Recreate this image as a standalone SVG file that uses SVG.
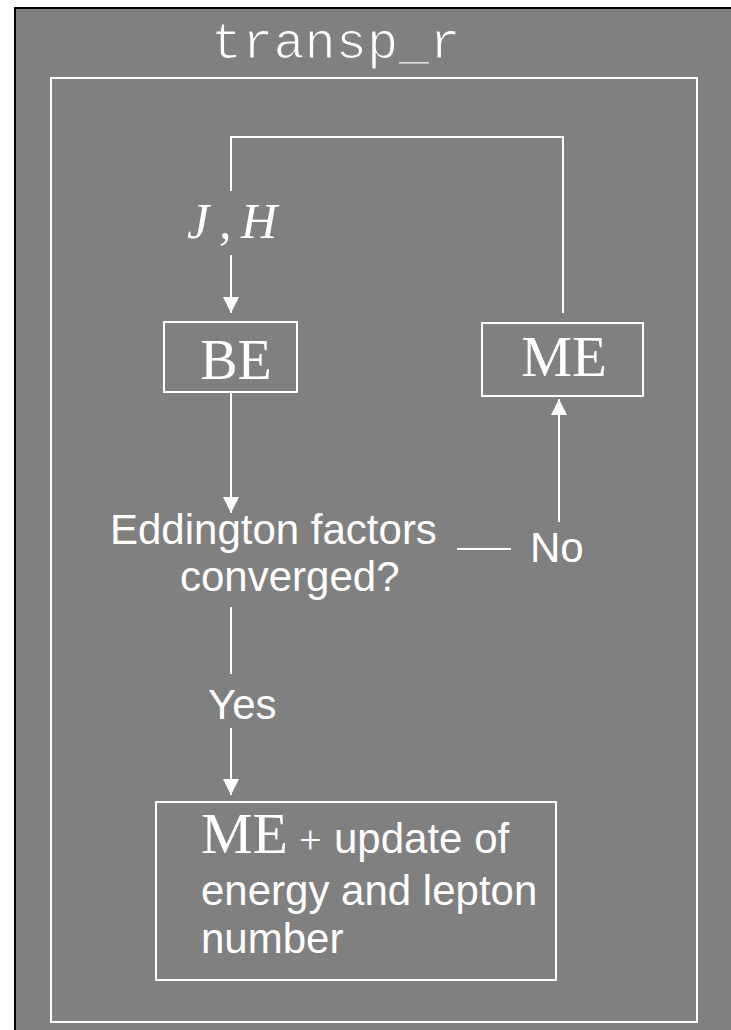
<svg xmlns="http://www.w3.org/2000/svg" width="731" height="1030" viewBox="0 0 731 1030">
<style>
.box{fill:none;stroke:#fff;stroke-width:2}
.ln{fill:none;stroke:#fff;stroke-width:2}
.serif{font-family:"Liberation Serif","Times New Roman",serif;fill:#fff}
.sans{font-family:"Liberation Sans",Arial,sans-serif;fill:#fff;font-size:42px}
.mono{font-family:"Liberation Mono","Courier New",monospace;fill:#fff}
</style>
<defs>
<marker id="ah" markerWidth="16" markerHeight="16" viewBox="0 0 16 16" refX="16" refY="8" orient="auto" markerUnits="userSpaceOnUse">
<path d="M0,0 L16,8 L0,16 Z" fill="#fff"/>
</marker>
</defs>
<rect x="15" y="8" width="720" height="1030" fill="#808080" stroke="#000" stroke-width="2"/>
<g id="frame">
<text class="mono" x="211" y="58" font-size="52" stroke="#808080" stroke-width="1.2">transp_r</text>
<rect class="box" x="51" y="78" width="646" height="944"/>
</g>
<g id="connectors">
<polyline class="ln" points="563,313 563,137 231,137 231,191"/>
<g id="jh-label">
<text class="serif" y="238" font-size="50" font-style="italic"><tspan x="187">J</tspan><tspan x="219">,</tspan><tspan x="241">H</tspan></text>
</g>
<line class="ln" x1="231" y1="255" x2="231" y2="313" marker-end="url(#ah)"/>
<line class="ln" x1="231" y1="393" x2="231" y2="513" marker-end="url(#ah)"/>
<line class="ln" x1="457" y1="549" x2="511" y2="549"/>
<text class="sans" x="530" y="562">No</text>
<line class="ln" x1="559" y1="522" x2="559" y2="399" marker-end="url(#ah)"/>
<line class="ln" x1="231" y1="607" x2="231" y2="674"/>
<text class="sans" x="208" y="719">Yes</text>
<line class="ln" x1="231" y1="728" x2="231" y2="795" marker-end="url(#ah)"/>
</g>
<g id="node-be">
<rect class="box" x="164" y="322" width="133" height="70"/>
<text class="serif" x="236" y="379" font-size="56" text-anchor="middle">BE</text>
</g>
<g id="node-me">
<rect class="box" x="482" y="323" width="161" height="73"/>
<text class="serif" x="564" y="376" font-size="57" text-anchor="middle">ME</text>
</g>
<g id="node-converged">
<text class="sans" x="110" y="544">Eddington factors</text>
<text class="sans" x="180" y="591">converged?</text>
</g>
<g id="node-final">
<rect class="box" x="156" y="802" width="400" height="178"/>
<text y="853"><tspan class="serif" x="201" font-size="58">ME</tspan><tspan class="serif" x="299" font-size="40">+</tspan><tspan class="sans" x="334">update of</tspan></text>
<text class="sans" x="201" y="905" font-size="43">energy and lepton</text>
<text class="sans" x="201" y="953" font-size="43">number</text>
</g>
</svg>
